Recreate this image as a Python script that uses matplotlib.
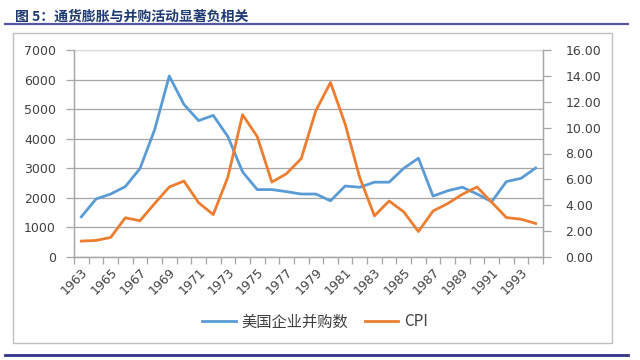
import numpy as np
import matplotlib
matplotlib.use("Agg")
import matplotlib.pyplot as plt
from matplotlib.patches import Rectangle
from matplotlib.lines import Line2D

plt.rcParams['font.family'] = ['Noto Sans CJK SC', 'DejaVu Sans']

years = list(range(1963, 1995))
# number of US M&A deals (left axis)
ma_count = [1360, 1960, 2130, 2380, 2990, 4300, 6120, 5160, 4610, 4790,
            4070, 2880, 2280, 2280, 2210, 2130, 2130, 1900, 2400, 2360,
            2530, 2530, 3000, 3340, 2060, 2240, 2360, 2130, 1870, 2550,
            2660, 3010]
# CPI inflation, % (right axis)
cpi = [1.23, 1.28, 1.51, 3.03, 2.80, 4.13, 5.41, 5.87, 4.20, 3.28,
       6.18, 11.00, 9.31, 5.79, 6.44, 7.60, 11.30, 13.49, 10.28, 6.13,
       3.18, 4.33, 3.49, 1.97, 3.56, 4.13, 4.85, 5.41, 4.23, 3.05,
       2.92, 2.59]

left_ticks = [0, 1000, 2000, 3000, 4000, 5000, 6000, 7000]
right_ticks = [0, 2, 4, 6, 8, 10, 12, 14, 16]

blue = "#5B9BD5"
orange = "#ED7D31"
grey = "#A6A6A6"
txt = "#404040"

W, H = 640, 360
fig = plt.figure(figsize=(6.4, 3.6), dpi=100)

# title and decoration lines
fig.text(15 / W, 1 - 17 / H, "图 5：通货膨胀与并购活动显著负相关", fontsize=10,
         fontweight="bold", color="#1F3A73", va="center", ha="left")
fig.add_artist(Line2D([5 / W, 628 / W], [1 - 23.5 / H, 1 - 23.5 / H],
                      color="#5558A8", lw=1.6))
fig.add_artist(Line2D([5 / W, 628 / W], [1 - 355 / H, 1 - 355 / H],
                      color="#33338C", lw=2.0))
fig.add_artist(Rectangle((13 / W, 1 - 343 / H), (612 - 13) / W, (343 - 33) / H,
                         fill=False, edgecolor="#BFBFBF", lw=1.0))

ax = fig.add_axes([74 / W, 1 - 257 / H, (543 - 74) / W, (257 - 50) / H])
x = np.arange(len(years))
l1, = ax.plot(x, ma_count, color=blue, lw=2.0, label="美国企业并购数")
ax.set_ylim(0, 7000)
ax.set_xlim(-0.5, len(years) - 0.5)
ax.set_yticks(left_ticks)
ax.set_yticklabels([str(v) for v in left_ticks])
ax.grid(axis="y", color=grey, lw=0.9)
ax.set_axisbelow(True)

# category boundaries as ticks, labels every 2 years at centers
ax.set_xticks(np.arange(-0.5, len(years) + 0.5, 1.0))
ax.set_xticklabels([])
ax.set_xticks(x[::2], minor=True)
ax.set_xticklabels([str(y) for y in years[::2]], minor=True, rotation=45,
                   ha="right", va="top", rotation_mode="anchor")
ax.tick_params(axis="x", which="major", length=5, color=grey, width=0.9)
ax.tick_params(axis="x", which="minor", length=0, pad=6, labelsize=9,
               labelcolor=txt)
ax.tick_params(axis="y", length=6, color=grey, width=0.9, pad=7,
               labelsize=9, labelcolor=txt)
for lab in ax.get_xticklabels(minor=True) + ax.get_yticklabels():
    lab.set_family("DejaVu Sans")

for s in ["left", "bottom", "right"]:
    ax.spines[s].set_color(grey)
    ax.spines[s].set_linewidth(0.9)
ax.spines["top"].set_color("#D9D9D9")

ax2 = ax.twinx()
l2, = ax2.plot(x, cpi, color=orange, lw=2.0, label="CPI")
ax2.set_ylim(0, 16)
ax2.set_yticks(right_ticks)
ax2.set_yticklabels(["%.2f" % v for v in right_ticks])
ax2.tick_params(axis="y", length=6, color=grey, width=0.9, pad=10,
                labelsize=9, labelcolor=txt)
for lab in ax2.get_yticklabels():
    lab.set_family("DejaVu Sans")
for s in ["left", "bottom", "right"]:
    ax2.spines[s].set_color(grey)
    ax2.spines[s].set_linewidth(0.9)
ax2.spines["top"].set_visible(False)

fig.legend(handles=[l1, l2], loc="center", bbox_to_anchor=(315 / W, 1 - 322 / H),
           ncol=2, frameon=False, fontsize=11, handlelength=2.2,
           handletextpad=0.35, columnspacing=1.1, labelcolor=txt)

fig.savefig("out.png", dpi=100)
